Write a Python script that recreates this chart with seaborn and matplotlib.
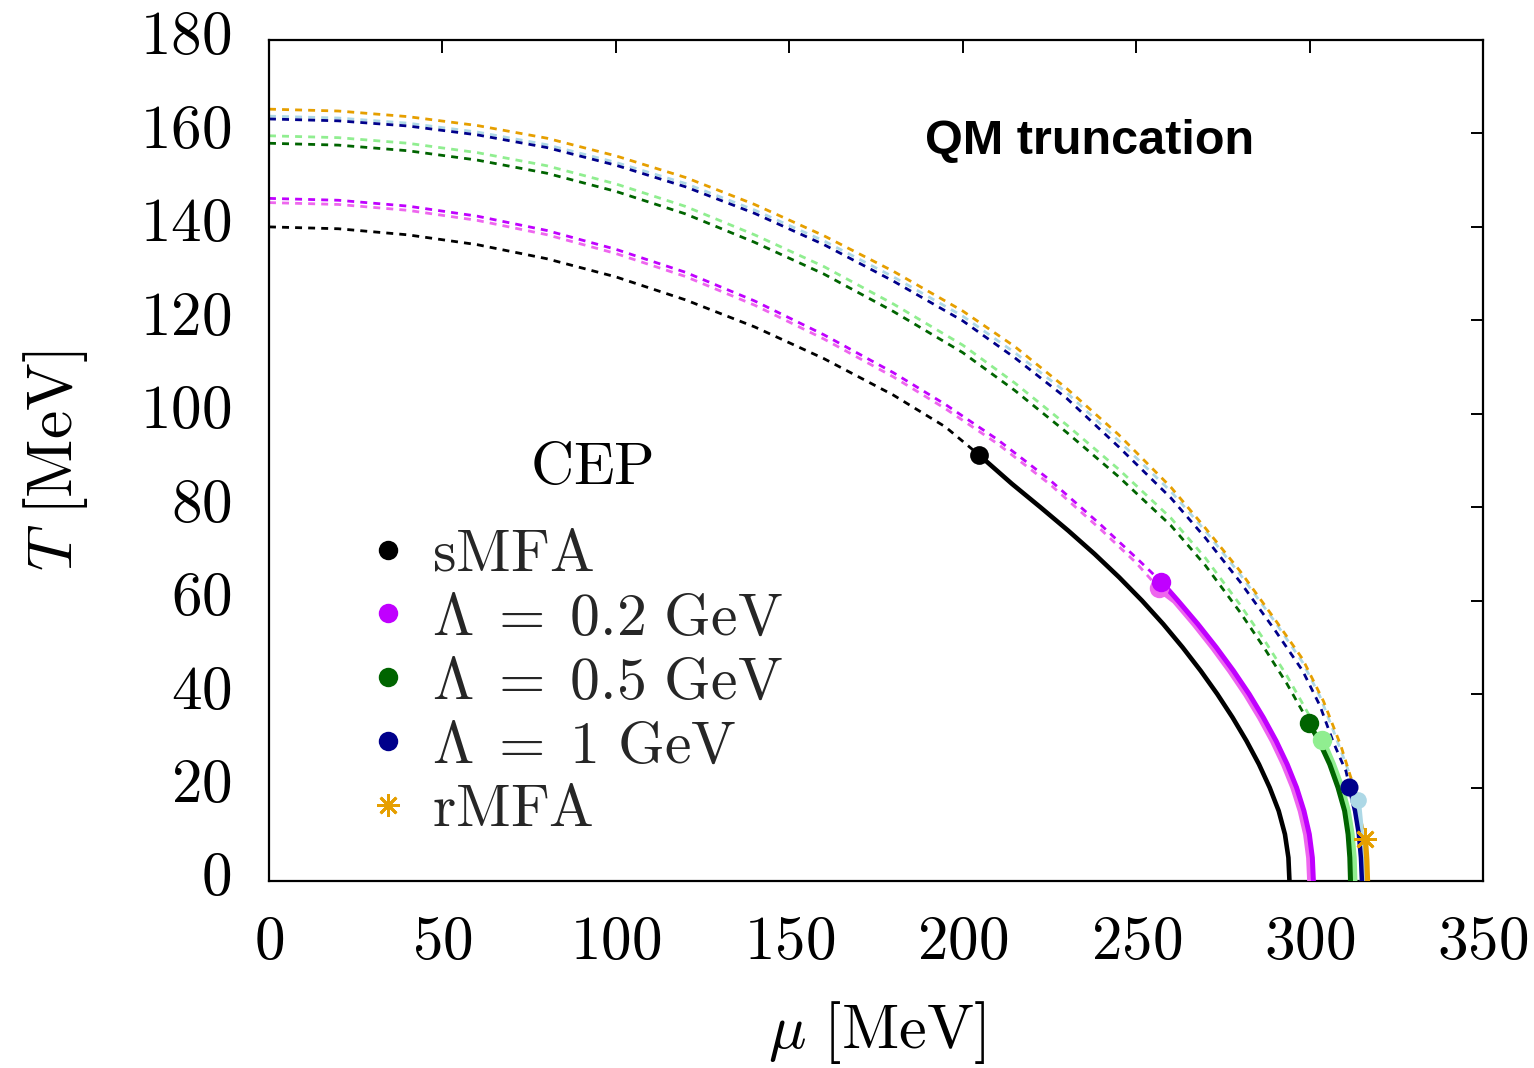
import matplotlib
matplotlib.use("Agg")
import matplotlib.pyplot as plt
import matplotlib.transforms as mtransforms
import seaborn as sns
import pandas as pd
from matplotlib.lines import Line2D

# ---------------- data ----------------
# sMFA (black)
smfa_xo_mu = [0, 20, 40, 60, 80, 100, 120, 140, 160, 180, 195, 204.7]
smfa_xo_T = [140, 139.6, 138.3, 136.2, 133.2, 129.3, 124.4, 118.6, 111.8, 104.0, 97.2, 91.2]
smfa_fo_mu = [204.7, 214.2, 222.4, 230.4, 238.0, 245.1, 251.7, 257.8, 263.4, 268.6, 273.4, 277.8, 281.8, 285.4, 288.5, 291.1, 292.9, 293.9, 294.2]
smfa_fo_T = [91.2, 85, 80, 75, 70, 65, 60, 55, 50, 45, 40, 35, 30, 25, 20, 15, 10, 5, 0]
smfa_cep = (204.7, 91.2)

# Lambda = 0.2 GeV (magenta) and its companion curve (pink)
l02_xo_mu = [0, 20, 40, 60, 80, 100, 120, 140, 160, 180, 195, 210, 225, 240, 250, 257.3]
l02_xo_T = [146.1, 145.7, 144.45, 142.3, 139.25, 135.2, 130.3, 124.15, 116.9, 108.8, 102.0, 94.5, 85.9, 76.1, 69.2, 64.0]
l02_fo_mu = [257.3, 262.05, 267.77, 273.1, 278.04, 282.59, 286.66, 290.34, 293.54, 296.25, 298.38, 299.93, 300.8, 301.1]
l02_fo_T = [64, 60, 55, 50, 45, 40, 35, 30, 25, 20, 15, 10, 5, 0]
l02_cep = (257.3, 64)

l02b_xo_mu = [0, 20, 40, 60, 80, 100, 120, 140, 160, 180, 195, 210, 225, 240, 250, 256.5]
l02b_xo_T = [145.2, 144.8, 143.55, 141.4, 138.35, 134.3, 129.4, 123.25, 116.0, 107.9, 101.1, 93.6, 85.0, 75.1, 68.1, 62.7]
l02b_fo_mu = [256.5, 261.25, 266.97, 272.3, 277.24, 281.79, 285.86, 289.54, 292.74, 295.45, 297.58, 299.13, 300.0, 300.3]
l02b_fo_T = [62.7, 60, 55, 50, 45, 40, 35, 30, 25, 20, 15, 10, 5, 0]
l02b_cep = (256.5, 62.7)

# Lambda = 0.5 GeV (dark green) and companion (light green)
l05_xo_mu = [0, 20, 40, 60, 80, 100, 120, 140, 160, 180, 200, 215, 230, 245, 260, 270, 280, 287, 293.4, 299.8]
l05_xo_T = [157.9, 157.5, 156.3, 154.3, 151.5, 147.6, 142.8, 136.7, 129.9, 121.9, 113.1, 105.0, 96.0, 86.5, 76.1, 67.5, 57.5, 49.8, 42.3, 33.9]
l05_fo_mu = [299.8, 302.7, 305.8, 308.2, 310.1, 311.1, 311.6, 311.8]
l05_fo_T = [33.9, 30, 25, 20, 15, 10, 5, 0]
l05_cep = (299.8, 33.9)

l05b_xo_mu = [0, 20, 40, 60, 80, 100, 120, 140, 160, 180, 200, 215, 230, 245, 260, 270, 280, 287, 293.4, 299.8, 303.6]
l05b_xo_T = [159.5, 159.1, 157.9, 155.9, 153.1, 149.2, 144.4, 138.3, 131.5, 123.5, 114.7, 106.6, 97.6, 88.1, 77.7, 69.1, 59.1, 51.5, 44.0, 35.6, 30.2]
l05b_fo_mu = [303.6, 306.6, 309.1, 310.9, 312.0, 312.6, 312.8]
l05b_fo_T = [30.2, 25, 20, 15, 10, 5, 0]
l05b_cep = (303.6, 30.2)

# Lambda = 1 GeV (dark blue) and companion (light blue)
l1_xo_mu = [0, 20, 40, 60, 80, 100, 120, 140, 160, 180, 200, 215, 230, 245, 260, 270, 280, 290, 298, 303, 306.7, 309, 310.5, 311.5]
l1_xo_T = [163.1, 162.7, 161.6, 159.7, 157.0, 153.2, 148.6, 142.9, 136.2, 128.4, 119.9, 112.0, 103.3, 92.9, 82.0, 73.4, 64.0, 53.7, 45.0, 37.5, 30.0, 26.0, 23.5, 20.2]
l1_fo_mu = [311.5, 313.1, 314.2, 314.8, 315.1]
l1_fo_T = [20.2, 15, 10, 5, 0]
l1_cep = (311.5, 20.2)

l1b_xo_mu = [0, 20, 40, 60, 80, 100, 120, 140, 160, 180, 200, 215, 230, 245, 260, 270, 280, 290, 298, 303, 306.7, 310, 312.2, 314]
l1b_xo_T = [163.7, 163.3, 162.2, 160.3, 157.6, 153.8, 149.3, 143.6, 137.0, 129.3, 120.9, 113.1, 104.5, 94.2, 83.4, 74.9, 65.6, 55.5, 46.8, 39.5, 32.5, 26.0, 21.5, 17.3]
l1b_fo_mu = [314, 314.7, 315.1, 315.3]
l1b_fo_T = [17.3, 12, 6, 0]
l1b_cep = (314, 17.3)

# rMFA (orange)
rmfa_xo_mu = [0, 20, 40, 60, 80, 100, 120, 140, 160, 180, 200, 215, 230, 245, 260, 270, 280, 290, 298, 304, 309, 312.6, 314.8, 316.1]
rmfa_xo_T = [165.2, 164.8, 163.6, 161.7, 159.0, 155.2, 150.6, 144.8, 138.1, 130.5, 122.0, 114.4, 105.4, 95.5, 84.3, 75.5, 66.3, 56.0, 47.5, 38.5, 29.0, 20.5, 13.0, 9.0]
rmfa_fo_mu = [316.1, 316.5, 316.7]
rmfa_fo_T = [9, 4.5, 0]
rmfa_cep = (316.1, 9)

legend_labels = [r"$\mathrm{sMFA}$", r"$\Lambda\;=\;0.2\ \mathrm{GeV}$",
                 r"$\Lambda\;=\;0.5\ \mathrm{GeV}$", r"$\Lambda\;=\;1\ \mathrm{GeV}$",
                 r"$\mathrm{rMFA}$"]
x_ticks = [0, 50, 100, 150, 200, 250, 300, 350]
y_ticks = [0, 20, 40, 60, 80, 100, 120, 140, 160, 180]

# ---------------- styles ----------------
C_BLACK = "#000000"
C_MAG = "#c000ff"
C_PINK = "#ee66ee"
C_DGREEN = "#006400"
C_LGREEN = "#90ee90"
C_DBLUE = "#00008b"
C_LBLUE = "#add8e6"
C_ORANGE = "#e69f00"

sns.set_theme(style="white")
plt.rcParams["font.family"] = ["DejaVu Serif"]
plt.rcParams["mathtext.fontset"] = "cm"

fig = plt.figure(figsize=(15.34, 10.68), dpi=100)
ax = fig.add_axes([269 / 1534, 1 - 881 / 1068, (1483 - 269) / 1534, (881 - 40) / 1068])

DOT = (0, (2.5, 2.2))


def curve(mu, T, color, lw, ls, z):
    df = pd.DataFrame({"mu": mu, "T": T})
    sns.lineplot(data=df, x="mu", y="T", color=color, linewidth=lw, linestyle=ls,
                 sort=False, estimator=None, ax=ax, zorder=z,
                 solid_capstyle="round", solid_joinstyle="round", dash_capstyle="butt")


def cep(pt, color, ms, z):
    ax.plot([pt[0]], [pt[1]], marker="o", markersize=ms, color=color,
            markeredgewidth=0, linestyle="none", zorder=z)


# crossovers (dotted)
LWD = 2.0
curve(smfa_xo_mu, smfa_xo_T, C_BLACK, LWD, DOT, 2)
curve(l02b_xo_mu, l02b_xo_T, C_PINK, LWD, DOT, 2)
curve(l02_xo_mu, l02_xo_T, C_MAG, LWD, DOT, 2)
curve(l05b_xo_mu, l05b_xo_T, C_LGREEN, LWD, DOT, 2)
curve(l05_xo_mu, l05_xo_T, C_DGREEN, LWD, DOT, 2)
curve(l1b_xo_mu, l1b_xo_T, C_LBLUE, LWD, DOT, 2)
curve(l1_xo_mu, l1_xo_T, C_DBLUE, LWD, DOT, 2)
curve(rmfa_xo_mu, rmfa_xo_T, C_ORANGE, LWD, DOT, 2)

# first-order lines (solid)
curve(smfa_fo_mu, smfa_fo_T, C_BLACK, 3.3, "-", 3)
curve(l02b_fo_mu, l02b_fo_T, C_PINK, 5.0, "-", 3)
curve(l02_fo_mu, l02_fo_T, C_MAG, 3.6, "-", 3)
curve(l05b_fo_mu, l05b_fo_T, C_LGREEN, 5.0, "-", 3)
curve(l05_fo_mu, l05_fo_T, C_DGREEN, 3.6, "-", 3)
curve(l1b_fo_mu, l1b_fo_T, C_LBLUE, 4.0, "-", 3)
curve(l1_fo_mu, l1_fo_T, C_DBLUE, 3.2, "-", 3)
curve(rmfa_fo_mu, rmfa_fo_T, C_ORANGE, 3.8, "-", 3)

# CEPs
cep(smfa_cep, C_BLACK, 13.5, 5)
cep(l02b_cep, C_PINK, 14, 5)
cep(l02_cep, C_MAG, 14, 6)
cep(l05b_cep, C_LGREEN, 14, 5)
cep(l05_cep, C_DGREEN, 14, 6)
cep(l1b_cep, C_LBLUE, 12, 5)
cep(l1_cep, C_DBLUE, 13, 6)
ax.plot([rmfa_cep[0]], [rmfa_cep[1]], marker=(8, 2, 0), markersize=16, color=C_ORANGE,
        markeredgewidth=2.0, linestyle="none", zorder=7)

# axes
ax.set_xlim(0, 350)
ax.set_ylim(0, 180)
ax.set_xticks(x_ticks)
ax.set_yticks(y_ticks)
ax.set_xticklabels([rf"${v}$" for v in x_ticks])
ax.set_yticklabels([rf"${v}$" for v in y_ticks])
ax.tick_params(axis="both", which="major", direction="in", length=9, width=1.4,
               top=True, right=True, labelsize=44, colors="black")
ax.tick_params(axis="y", pad=27)
ax.tick_params(axis="x", pad=22)
for s in ax.spines.values():
    s.set_linewidth(1.6)
    s.set_color("black")
ax.grid(False)
ax.set_facecolor("white")

ax.set_xlabel(r"$\mu\ [\mathrm{MeV}]$", fontsize=45, labelpad=20, color="black")
ax.set_ylabel(r"$T\ [\mathrm{MeV}]$", fontsize=46, labelpad=36, color="black")

ax.text(0.676, 0.879, "QM truncation", transform=ax.transAxes, ha="center", va="center",
        fontsize=35, fontweight="bold", family=["Liberation Sans", "DejaVu Sans"], color="black")

# legend
handles = [
    Line2D([], [], marker="o", color=C_BLACK, linestyle="none", markersize=14, markeredgewidth=0),
    Line2D([], [], marker="o", color=C_MAG, linestyle="none", markersize=14, markeredgewidth=0),
    Line2D([], [], marker="o", color=C_DGREEN, linestyle="none", markersize=14, markeredgewidth=0),
    Line2D([], [], marker="o", color=C_DBLUE, linestyle="none", markersize=14, markeredgewidth=0),
    Line2D([], [], marker=(8, 2, 0), color=C_ORANGE, linestyle="none", markersize=16, markeredgewidth=2.0),
]
leg = ax.legend(handles, legend_labels, loc="upper left",
                bbox_to_anchor=(0.0783, 0.424), frameon=False, fontsize=43,
                handlelength=0.8, handletextpad=0.33,
                labelspacing=0.1, borderpad=0, borderaxespad=0)
ax.text((592 - 269) / 1214, (881 - 467) / 841, r"$\mathrm{CEP}$", transform=ax.transAxes,
        ha="center", va="center", fontsize=43, color="black")

# lift the y tick labels a little, as in the reference
fig.canvas.draw()
lift = mtransforms.ScaledTranslation(0, 0.09, fig.dpi_scale_trans)
for lbl in ax.get_yticklabels():
    lbl.set_transform(lbl.get_transform() + lift)

fig.savefig("out.png", dpi=100, facecolor="white")
